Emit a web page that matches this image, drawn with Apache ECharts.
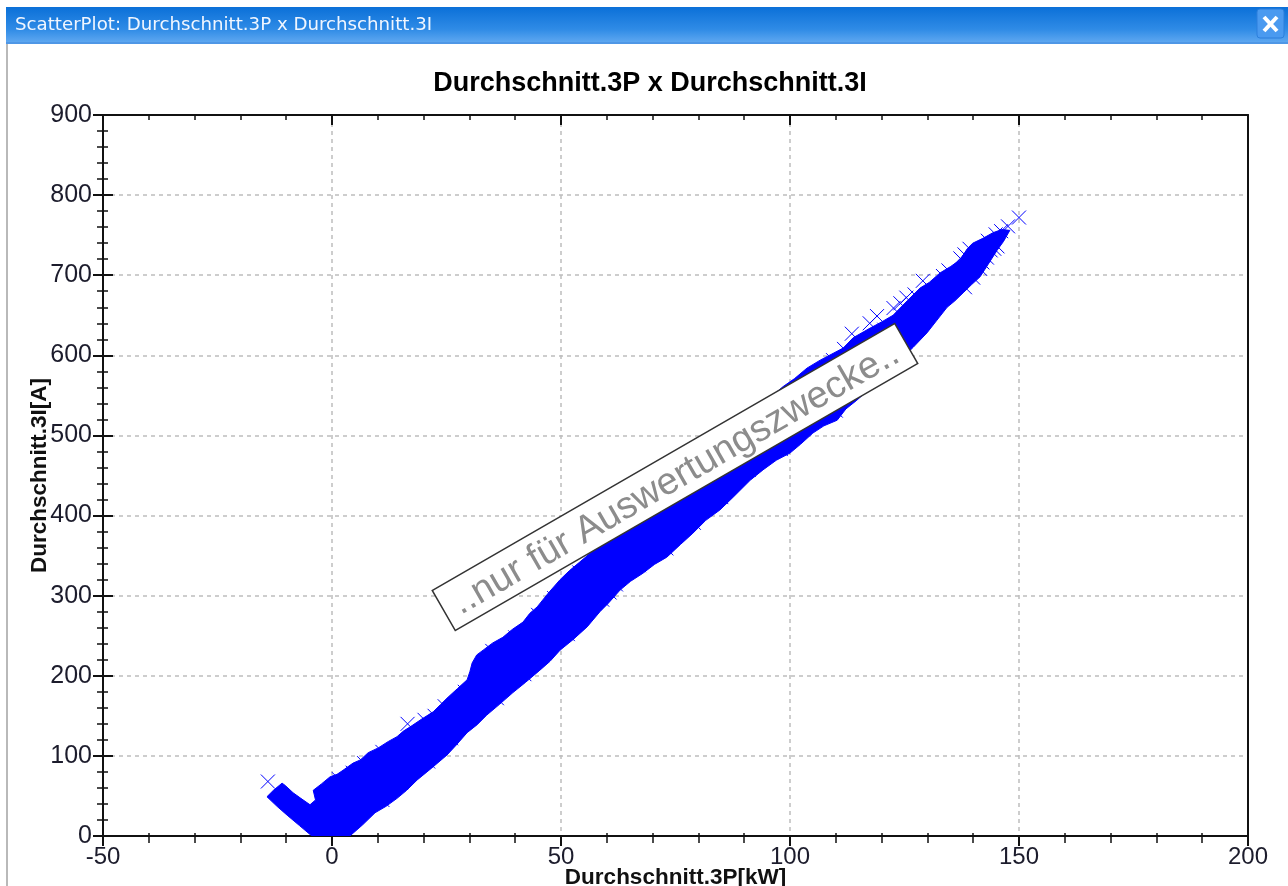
<!DOCTYPE html>
<html><head><meta charset="utf-8">
<style>html,body{margin:0;padding:0;background:#fff}#c{width:1288px;height:886px}</style>
<script src="https://cdn.jsdelivr.net/npm/echarts@6/dist/echarts.min.js"></script>
</head><body><div id="c"></div>
<script>
const chartTitle = 'Durchschnitt.3P x Durchschnitt.3I';
const windowTitle = 'ScatterPlot: Durchschnitt.3P x Durchschnitt.3I';
const xName = 'Durchschnitt.3P[kW]';
const yName = 'Durchschnitt.3I[A]';
const watermark = '..nur für Auswertungszwecke..';

// Outline of the solid mass of overlapping markers, [P kW, I A]
const cloudUpperEdge = [
 [-14.2,49],[-12.8,57],[-10.9,66],[-10.2,63],[-8.5,54],[-6.8,47],[-4.8,39],[-3.6,45],[-4.1,57],
 [-2.3,65],[-0.4,74],[1.1,77],[2.4,82],[4.6,91],[6.2,95],[7.9,104],[10.1,110],[12.3,118],[14.2,124],[15.6,131],[17,136],
 [19.6,146],[22.1,155],[23.7,164],[25.1,172],[27.4,184],[29.5,195],[30.1,205],[30.6,216],[31.6,226],[33,232],[35.1,241],[37.3,248],
 [39.4,258],[41.7,267],[43.2,278],[44.8,286],[47.2,303],[49.8,320],[51.8,331],[54.1,342],[56.8,355],
 [62.9,388],[76,451],[89.1,519],[95.6,547],[98.5,561],[101,571],[103.7,584],[106.6,594],[111.6,609],
 [113.8,622],[117.5,634],[120.1,642],[122.5,650],[125.6,668],[128.4,684],[130.4,691],[132.8,703],[135.1,711],[137.1,719],[138.7,733],[139.9,740],[142.1,746],[144.3,753],[146.2,757]
];
const cloudLowerEdge = [
 [148,756],[146.6,742],[145.2,731],[143.3,714],[141.5,698],[139.6,688],[137.8,678],[136,668],[134.3,660],[132.1,644],[129.9,628],[126.9,610],
 [121,577],[114.6,544],[112.2,533],[110.3,519],[107.4,512],[105,503],[102.3,489],[100,478],[97,469],[94.1,457],[91.3,444],[87.6,423],[84.7,407],[81.6,394],[78.8,378],[76.1,364],[73.1,348],[70.4,339],[67.9,328],[65.2,318],[62.9,307],
 [60.4,291],[58.5,280],[55.7,261],[52.6,245],[49.8,232],[47.6,218],[45.4,207],[42.3,192],[39.5,179],[36.5,164],[33.8,151],[31.7,139],[29.5,129],[27.2,114],[25.1,101],[21.8,85],[18.6,70],[16.3,57],[14.2,47],[11.8,37],[9.4,29],[6.7,14],[3.9,0],
 [-4.4,0],[-7.1,13],[-9.8,26],[-12,37]
];

// Individually visible crosses: outliers and points along the edge of the mass
const scatterP = [
 150,147.6,146.1,144.9,143.2,145.3,143.8,142.3,141.1,139.2,138.1,137.2,140.3,139.1,137.3,134.6,133.4,129,127.2,125.4,124.1,122.6,
 143,141.5,144.6,142,138.2,140,
 119,117.4,120.6,113.5,115.6,111.8,109.4,
 -14,16.5,
 1.5,4.5,7,11,20.2,22.4,24.6,29,35,40,45,48.5,54,
 11,15,21,26,36,42,51.5,59,60.6,62,67,73,79,85,91,98,103,110
];
const scatterI = [
 772,761,755,751,743,736,731,725,718,733,726,721,713,703,694,706,699,693,676,672,665,659,
 722,708,733,716,685,697,
 649,640,632,627,612,608,594,
 68,140,
 71,79,91,105,145,150,162,180,231,248,276,297,329,
 45,67,93,122,172,202,252,295,304,314,338,359,391,423,457,483,509,531
];

const chart = echarts.init(document.getElementById('c'));
const xMark = 'path://M0 0L10 10M10 0L0 10';
const axisText = {fontFamily:'Liberation Sans',fontSize:24,color:'#1c1c2c'};
const line2 = {show:true,onZero:false,lineStyle:{color:'#111',width:2}};
const noLine = {show:false,onZero:false};
const xBase = {type:'value',min:-50,max:200,interval:50};
const yBase = {type:'value',min:0,max:900,interval:100};
const hideLabel = {show:false};
const gridDash = {show:true,showMinLine:false,showMaxLine:false,lineStyle:{color:'#bdbdbd',type:[4,4],width:1.5}};

chart.setOption({
 animation:false,
 backgroundColor:'#fff',
 title:{text:chartTitle,left:645,top:65,textAlign:'center',
   textStyle:{fontFamily:'Liberation Sans',fontWeight:'bold',fontSize:27,color:'#000'}},
 grid:{left:103,top:115,width:1145,height:721,outerBoundsMode:'none',containLabel:false},
 xAxis:[
  {...xBase,position:'bottom',name:xName,nameLocation:'middle',nameGap:30,nameMoveOverlap:false,
   nameTextStyle:{fontFamily:'Liberation Sans',fontWeight:'bold',fontSize:22.5,color:'#111'},
   axisLine:line2,axisLabel:{...axisText,margin:9,showMinLabel:true,showMaxLabel:true},
   axisTick:{show:true,inside:false,length:10,lineStyle:{color:'#111',width:2}},
   minorTick:{show:true,splitNumber:5,length:7,lineStyle:{color:'#111',width:1.5}},
   splitLine:gridDash},
  {...xBase,position:'bottom',axisLine:noLine,axisLabel:hideLabel,splitLine:{show:false},
   axisTick:{show:false,inside:true},minorTick:{show:true,splitNumber:5,length:3,lineStyle:{color:'#111',width:1.5}}},
  {...xBase,position:'top',axisLine:line2,axisLabel:hideLabel,splitLine:{show:false},
   axisTick:{show:true,inside:true,length:10,lineStyle:{color:'#111',width:2}},
   minorTick:{show:true,splitNumber:5,length:5,lineStyle:{color:'#111',width:1.5}}}
 ],
 yAxis:[
  {...yBase,position:'left',name:yName,nameLocation:'middle',nameGap:52,nameMoveOverlap:false,
   nameTextStyle:{fontFamily:'Liberation Sans',fontWeight:'bold',fontSize:22.5,color:'#111'},
   axisLine:line2,axisLabel:{...axisText,fontSize:25,margin:11},
   axisTick:{show:true,inside:false,length:10,lineStyle:{color:'#111',width:2}},
   minorTick:{show:true,splitNumber:5,length:6,lineStyle:{color:'#111',width:1.5}},
   splitLine:gridDash},
  {...yBase,position:'left',axisLine:noLine,axisLabel:hideLabel,splitLine:{show:false},
   axisTick:{show:true,inside:true,length:10,lineStyle:{color:'#111',width:2}},
   minorTick:{show:true,splitNumber:5,length:5,lineStyle:{color:'#111',width:1.5}}},
  {...yBase,position:'right',axisLine:line2,axisLabel:hideLabel,splitLine:{show:false},axisTick:{show:false}}
 ],
 series:[
  {type:'custom',xAxisIndex:0,yAxisIndex:0,clip:true,silent:true,z:2,
   data:[[0,0]],
   renderItem:(params,api)=>({type:'polygon',
     shape:{points:cloudUpperEdge.concat(cloudLowerEdge).map(p=>api.coord(p))},
     style:{fill:'#0000ff',stroke:'#0000ff',lineWidth:1}})},
  {type:'scatter',xAxisIndex:0,yAxisIndex:0,z:3,clip:true,silent:true,
   symbol:xMark,symbolSize:14,
   itemStyle:{color:'none',borderColor:'#0000ff',borderWidth:1,opacity:1},
   data:scatterP.map((p,i)=>[p,scatterI[i]])}
 ],
 graphic:[
  {type:'rect',z:50,shape:{x:6,y:7,width:1282,height:37},
   style:{fill:{type:'linear',x:0,y:0,x2:0,y2:1,colorStops:[
     {offset:0,color:'#0b70d8'},{offset:0.6,color:'#2f8be6'},{offset:1,color:'#64abf2'}]}}},
  {type:'rect',z:50,shape:{x:6,y:42,width:1282,height:2},style:{fill:'#4f97e6'}},
  {type:'rect',z:50,shape:{x:6,y:44,width:2,height:842},style:{fill:'#b9b9b9'}},
  {type:'text',z:51,x:15,y:25,style:{text:windowTitle,fill:'#f0f6ff',
     font:'18.2px "DejaVu Sans"',textVerticalAlign:'middle'}},
  {type:'rect',z:51,shape:{x:1257,y:9,width:27,height:29,r:3},
     style:{fill:'#4a9af0',stroke:'#2c7fdc',lineWidth:1}},
  {type:'line',z:52,shape:{x1:1264,y1:17,x2:1277,y2:31},style:{stroke:'#fff',lineWidth:4}},
  {type:'line',z:52,shape:{x1:1277,y1:17,x2:1264,y2:31},style:{stroke:'#fff',lineWidth:4}},
  {type:'group',z:60,x:675,y:477,rotation:Math.PI/6,children:[
    {type:'rect',z:60,shape:{x:-267,y:-23,width:534,height:46},
      style:{fill:'#fff',stroke:'#333',lineWidth:1.5}},
    {type:'text',z:61,x:0,y:2,style:{text:watermark,fill:'#8c8c8c',
      font:'38px "Liberation Sans"',textAlign:'center',textVerticalAlign:'middle'}}
  ]}
 ]
});
</script></body></html>
